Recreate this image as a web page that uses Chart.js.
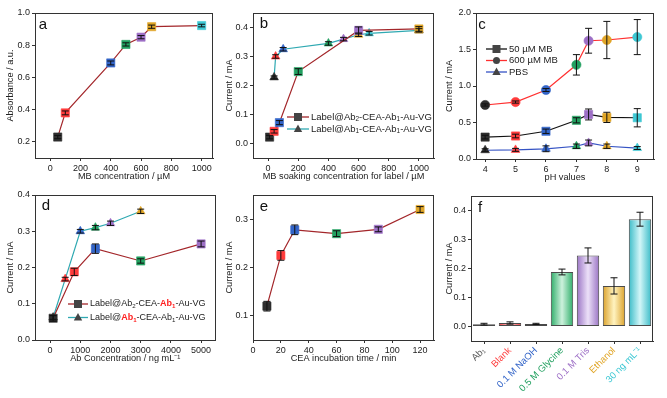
<!DOCTYPE html>
<html>
<head>
<meta charset="utf-8">
<script src="https://cdn.jsdelivr.net/npm/chart.js@4.4.0/dist/chart.umd.min.js"></script>
<style>
  body { margin: 0; background: #fff; width: 667px; height: 398px; position: relative; overflow: hidden; }
  canvas { position: absolute; }
</style>
</head>
<body>
<canvas id="pa" width="222" height="195" style="left:0;top:0"></canvas>
<canvas id="pb" width="222" height="195" style="left:222px;top:0"></canvas>
<canvas id="pc" width="223" height="195" style="left:444px;top:0"></canvas>
<canvas id="pd" width="222" height="218" style="left:0;top:180px"></canvas>
<canvas id="pe" width="222" height="218" style="left:222px;top:180px"></canvas>
<canvas id="pf" width="223" height="218" style="left:444px;top:180px"></canvas>
<script>
const FONT = '"Liberation Sans", Arial, sans-serif';
const INK = '#222';
const TICK_PX = 9;
const TITLE_PX = 9.2;
// point colours, in the order the figure uses them
const PALETTE = ['#2e2e2e', '#ff3b3b', '#3264c8', '#22a060', '#9d6fc6', '#e0a526', '#3ec8d4'];
const RED_LINE = '#a3262a';
const TEAL_LINE = '#2fa9b2';

// a: absorbance vs MB concentration
const aConc = [50, 100, 400, 500, 600, 670, 1000];
const aAbs = [0.23, 0.38, 0.69, 0.805, 0.85, 0.915, 0.922];
const aErr = [0.01, 0.012, 0.012, 0.01, 0.01, 0.01, 0.008];
const aXTicks = [0, 200, 400, 600, 800, 1000];
const aYTicks = [0.2, 0.4, 0.6, 0.8, 1.0];

// b: current vs MB soaking concentration
const bConc1 = [10, 40, 75, 200, 600, 1000];
const bCur1 = [0.022, 0.042, 0.072, 0.248, 0.39, 0.395];
const bErr1 = [0.006, 0.006, 0.007, 0.01, 0.012, 0.008];
const bConc2 = [40, 50, 100, 400, 500, 600, 670, 1000];
const bCur2 = [0.228, 0.30, 0.325, 0.345, 0.36, 0.375, 0.38, 0.39];
const bErr2 = [0.005, 0.006, 0.006, 0.006, 0.006, 0.006, 0.006, 0.006];
const bCol2 = ['#2e2e2e', '#ff3b3b', '#3264c8', '#22a060', '#9d6fc6', '#e0a526', '#3ec8d4', '#2e2e2e'];
const bXTicks = [0, 200, 400, 600, 800, 1000];
const bYTicks = [0.0, 0.1, 0.2, 0.3, 0.4];

// c: current vs pH
const cPH = [4, 5, 6, 7, 7.4, 8, 9];
const c50 = [0.30, 0.315, 0.38, 0.53, 0.61, 0.57, 0.565];
const c50Err = [0.025, 0.025, 0.03, 0.035, 0.075, 0.07, 0.125];
const c600 = [0.74, 0.78, 0.945, 1.29, 1.62, 1.63, 1.67];
const c600Err = [0.015, 0.015, 0.02, 0.14, 0.17, 0.255, 0.24];
const cPBS = [0.12, 0.125, 0.14, 0.175, 0.22, 0.175, 0.15];
const cPBSErr = [0.02, 0.02, 0.04, 0.03, 0.04, 0.03, 0.02];
const cXTicks = [4, 5, 6, 7, 8, 9];
const cYTicks = [0.0, 0.5, 1.0, 1.5, 2.0];

// d: current vs Ab concentration
const dConc1 = [100, 800, 1500, 3000, 5000];
const dCur1 = [0.06, 0.188, 0.252, 0.218, 0.265];
const dErr1 = [0.008, 0.01, 0.013, 0.006, 0.008];
const dConc2 = [100, 500, 1000, 1500, 2000, 3000];
const dCur2 = [0.062, 0.168, 0.30, 0.31, 0.322, 0.355];
const dErr2 = [0.005, 0.005, 0.005, 0.006, 0.006, 0.006];
const dXTicks = [0, 1000, 2000, 3000, 4000, 5000];
const dYTicks = [0.0, 0.1, 0.2, 0.3, 0.4];

// e: current vs CEA incubation time
const eTime = [10, 20, 30, 60, 90, 120];
const eCur = [0.12, 0.225, 0.278, 0.27, 0.279, 0.32];
const eErr = [0.01, 0.01, 0.01, 0.006, 0.005, 0.006];
const eXTicks = [0, 20, 40, 60, 80, 100, 120];
const eYTicks = [0.1, 0.2, 0.3];

// f: blocking / control bars
const fLabels = ['Ab\u2081', 'Blank', '0.1 M NaOH', '0.5 M Glycine', '0.1 M Tris', 'Ethanol', '30 ng mL\u207B\u00B9'];
const fCur = [0.008, 0.012, 0.009, 0.188, 0.245, 0.14, 0.37];
const fErr = [0.003, 0.004, 0.002, 0.01, 0.026, 0.028, 0.024];
const fYTicks = [0.0, 0.1, 0.2, 0.3, 0.4];
const fLabelCol = ['#555555', '#ff3b3b', '#3264c8', '#22a060', '#9d6fc6', '#e0a526', '#3ec8d4'];
const fBarDark = ['#6a6a6a', '#ef3c40', '#3e68c0', '#2fae6a', '#9a74c4', '#dba22c', '#3cbcc8'];
const fBarLight = ['#e6e6e6', '#ffd0d2', '#d2def4', '#cdf1dc', '#ece0f8', '#fff3c0', '#d2f6f8'];

const pts = (xs, ys) => xs.map((x, i) => ({ x: x, y: ys[i] }));

// error bars drawn from dataset.errors through the y scale
Chart.register({
  id: 'errBars',
  afterDatasetsDraw(chart) {
    const ctx = chart.ctx, ys = chart.scales.y;
    chart.data.datasets.forEach((ds, di) => {
      if (!ds.errors) return;
      const meta = chart.getDatasetMeta(di);
      ctx.save();
      ctx.strokeStyle = '#111';
      ctx.lineWidth = 1;
      meta.data.forEach((el, i) => {
        const v = typeof ds.data[i] === 'object' ? ds.data[i].y : ds.data[i];
        const e = ds.errors[i];
        const y1 = ys.getPixelForValue(v + e), y2 = ys.getPixelForValue(v - e);
        const x = el.x, cap = 3.5;
        ctx.beginPath();
        ctx.moveTo(x, y1); ctx.lineTo(x, y2);
        ctx.moveTo(x - cap, y1); ctx.lineTo(x + cap, y1);
        ctx.moveTo(x - cap, y2); ctx.lineTo(x + cap, y2);
        ctx.stroke();
      });
      ctx.restore();
    });
  }
});

// box frame plus panel letter
Chart.register({
  id: 'panelFrame',
  afterDraw(chart, args, opts) {
    const { ctx, chartArea: a } = chart;
    ctx.save();
    ctx.strokeStyle = '#333';
    ctx.lineWidth = 1;
    ctx.strokeRect(Math.round(a.left) + 0.5, Math.round(a.top) + 0.5,
      Math.round(a.right - a.left) - 1, Math.round(a.bottom - a.top));
    if (opts.text) {
      ctx.fillStyle = '#111';
      ctx.font = '15px ' + FONT;
      ctx.textAlign = 'center';
      ctx.textBaseline = 'middle';
      ctx.fillText(opts.text, a.left + opts.dx, a.top + opts.dy);
    }
    ctx.restore();
  }
});

function marker(ctx, style, x, y, r) {
  ctx.beginPath();
  if (style === 'rect') {
    ctx.rect(x - r, y - r, 2 * r, 2 * r);
  } else if (style === 'circle') {
    ctx.arc(x, y, r, 0, Math.PI * 2);
  } else {
    ctx.moveTo(x, y - r * 1.1);
    ctx.lineTo(x + r * 1.05, y + r * 0.75);
    ctx.lineTo(x - r * 1.05, y + r * 0.75);
    ctx.closePath();
  }
  ctx.fill();
}

// legend drawn inside the plot, with subscripts and coloured parts
Chart.register({
  id: 'inLegend',
  afterDraw(chart, args, opts) {
    if (!opts.items) return;
    const { ctx, chartArea: a } = chart;
    const size = opts.size || 9.5;
    ctx.save();
    opts.items.forEach((it, r) => {
      const y = a.top + opts.y + r * opts.gap;
      const x0 = a.left + opts.x;
      ctx.strokeStyle = it.line;
      ctx.lineWidth = 1.3;
      ctx.beginPath(); ctx.moveTo(x0, y); ctx.lineTo(x0 + opts.len, y); ctx.stroke();
      ctx.fillStyle = '#444';
      marker(ctx, it.style, x0 + opts.len / 2, y, it.style === 'circle' ? 3.5 : 4);
      let tx = x0 + opts.len + 2;
      ctx.textBaseline = 'middle';
      ctx.textAlign = 'left';
      it.text.forEach(seg => {
        const [t, col, bold, sub] = seg;
        ctx.font = (bold ? 'bold ' : '') + (sub ? (size * 0.68) : size) + 'px ' + FONT;
        ctx.fillStyle = col || INK;
        ctx.fillText(t, tx, sub ? y + 2.5 : y);
        tx += ctx.measureText(t).width;
      });
    });
    ctx.restore();
  }
});

function xLinear(min, max, ticks, title, H) {
  return {
    type: 'linear', min: min, max: max,
    afterBuildTicks: s => { s.ticks = ticks.map(v => ({ value: v })); },
    afterFit: s => { s.height = H; s.paddingLeft = 0; s.paddingRight = 0; },
    grid: { drawOnChartArea: false, tickLength: 3, color: '#333' },
    border: { color: '#333' },
    ticks: { font: { family: FONT, size: TICK_PX }, color: INK, padding: 2, maxRotation: 0, autoSkip: false,
      callback: v => String(v) },
    title: { display: true, text: title, font: { family: FONT, size: TITLE_PX }, color: INK, padding: { top: 0, bottom: 0 } }
  };
}

function yLinear(min, max, ticks, dec, title, W, tpad) {
  return {
    min: min, max: max,
    afterBuildTicks: s => { s.ticks = ticks.map(v => ({ value: v })); },
    afterFit: s => { s.width = W; s.paddingTop = 0; s.paddingBottom = 0; },
    grid: { drawOnChartArea: false, tickLength: 3, color: '#333' },
    border: { color: '#333' },
    ticks: { font: { family: FONT, size: TICK_PX }, color: INK, padding: 2, autoSkip: false,
      callback: v => Number(v).toFixed(dec) },
    title: { display: true, text: title, font: { family: FONT, size: TITLE_PX }, color: INK, padding: { top: tpad, bottom: 0 } }
  };
}

function series(data, colors, style, line, errors, r) {
  return {
    data: data, errors: errors, showLine: true,
    borderColor: line, borderWidth: 1.2,
    pointStyle: style, pointRadius: r, pointBorderWidth: 0.6,
    pointBackgroundColor: colors, pointBorderColor: colors
  };
}

function baseOpts(pad, letter, legend, scales) {
  return {
    responsive: false, animation: false,
    layout: { padding: pad },
    plugins: {
      legend: { display: false }, tooltip: { enabled: false },
      panelFrame: letter, inLegend: legend || {}
    },
    scales: scales
  };
}

// a
new Chart(document.getElementById('pa'), {
  type: 'scatter',
  data: { datasets: [series(pts(aConc, aAbs), PALETTE, 'rect', RED_LINE, aErr, 5.8)] },
  options: baseOpts({ left: 0, right: 9, top: 13, bottom: 13 }, { text: 'a', dx: 8, dy: 12 }, null, {
    x: xLinear(-100, 1075, aXTicks, 'MB concentration / \u00B5M', 24),
    y: yLinear(0.1, 1.0, aYTicks, 1, 'Absorbance / a.u.', 35, 4.5)
  })
});

const labelAb2 = [['Label@Ab'], ['2', null, false, true], ['-CEA-Ab'], ['1', null, false, true], ['-Au-VG']];
const labelAb1 = [['Label@Ab'], ['1', null, false, true], ['-CEA-Ab'], ['1', null, false, true], ['-Au-VG']];

// b
new Chart(document.getElementById('pb'), {
  type: 'scatter',
  data: { datasets: [
    series(pts(bConc1, bCur1), PALETTE, 'rect', RED_LINE, bErr1, 5.8),
    series(pts(bConc2, bCur2), bCol2, 'triangle', TEAL_LINE, bErr2, 5)
  ] },
  options: baseOpts({ left: 0, right: 10, top: 13, bottom: 13 }, { text: 'b', dx: 11, dy: 11 }, {
    x: 34, y: 104, gap: 12, len: 22, size: 9.5,
    items: [
      { line: RED_LINE, style: 'rect', text: labelAb2 },
      { line: TEAL_LINE, style: 'triangle', text: labelAb1 }
    ]
  }, {
    x: xLinear(-100, 1100, bXTicks, 'MB soaking concentration for label / \u00B5M', 24),
    y: yLinear(-0.05, 0.45, bYTicks, 1, 'Current / mA', 31, 2)
  })
});

// c
new Chart(document.getElementById('pc'), {
  type: 'scatter',
  data: { datasets: [
    series(pts(cPH, c50), PALETTE, 'rect', '#111111', c50Err, 5.8),
    series(pts(cPH, c600), PALETTE, 'circle', '#ff3030', c600Err, 4.6),
    series(pts(cPH, cPBS), PALETTE, 'triangle', '#3553c4', cPBSErr, 5)
  ] },
  options: baseOpts({ left: 0, right: 13, top: 13, bottom: 12 }, { text: 'c', dx: 6, dy: 12 }, {
    x: 10, y: 36, gap: 11.5, len: 21, size: 9.5,
    items: [
      { line: '#111111', style: 'rect', text: [['50 \u00B5M MB']] },
      { line: '#ff3030', style: 'circle', text: [['600 \u00B5M MB']] },
      { line: '#3553c4', style: 'triangle', text: [['PBS']] }
    ]
  }, {
    x: xLinear(3.7, 9.55, cXTicks, 'pH values', 24),
    y: yLinear(0, 2.0, cYTicks, 1, 'Current / mA', 32, 0)
  })
});

// d
const RED_TXT = '#ff2020';
new Chart(document.getElementById('pd'), {
  type: 'scatter',
  data: { datasets: [
    series(pts(dConc1, dCur1), PALETTE, 'rect', RED_LINE, dErr1, 5.8),
    series(pts(dConc2, dCur2), PALETTE, 'triangle', TEAL_LINE, dErr2, 5)
  ] },
  options: baseOpts({ left: 0, right: 6, top: 15, bottom: 34 }, { text: 'd', dx: 11, dy: 11 }, {
    x: 33, y: 109, gap: 13.5, len: 20, size: 9,
    items: [
      { line: RED_LINE, style: 'rect', text: [['Label@Ab'], ['2', null, false, true], ['-CEA-'],
        ['Ab', RED_TXT, true], ['1', RED_TXT, true, true], ['-Au-VG']] },
      { line: TEAL_LINE, style: 'triangle', text: [['Label@'], ['Ab', RED_TXT, true], ['1', RED_TXT, true, true],
        ['-CEA-Ab'], ['1', null, false, true], ['-Au-VG']] }
    ]
  }, {
    x: xLinear(-500, 5480, dXTicks, 'Ab Concentration / ng mL\u207B\u00B9', 24),
    y: yLinear(0, 0.4, dYTicks, 1, 'Current / mA', 35, 4.5)
  })
});

// e
new Chart(document.getElementById('pe'), {
  type: 'scatter',
  data: { datasets: [series(pts(eTime, eCur), PALETTE, 'rect', RED_LINE, eErr, 5.8)] },
  options: baseOpts({ left: 0, right: 10, top: 15, bottom: 34 }, { text: 'e', dx: 11, dy: 12 }, null, {
    x: xLinear(0, 130, eXTicks, 'CEA incubation time / min', 24),
    y: yLinear(0.05, 0.35, eYTicks, 1, 'Current / mA', 31, 2)
  })
});

// f
const BAR_PCT = 0.86;
new Chart(document.getElementById('pf'), {
  type: 'bar',
  data: { labels: fLabels, datasets: [{
    data: fCur, errors: fErr,
    barPercentage: BAR_PCT, categoryPercentage: 1,
    borderColor: '#4a4a4a', borderWidth: 1, borderSkipped: false,
    backgroundColor: c => {
      const ch = c.chart, sx = ch.scales.x, i = c.dataIndex || 0;
      if (!ch.chartArea || !sx || !sx.width) return fBarDark[i];
      const cx = sx.getPixelForValue(i);
      const half = sx.width / fLabels.length * BAR_PCT / 2;
      const g = ch.ctx.createLinearGradient(cx - half, 0, cx + half, 0);
      g.addColorStop(0, fBarDark[i]);
      g.addColorStop(0.5, fBarLight[i]);
      g.addColorStop(1, fBarDark[i]);
      return g;
    }
  }] },
  options: baseOpts({ left: 0, right: 14, top: 16, bottom: 0 }, { text: 'f', dx: 9, dy: 12 }, null, {
    x: {
      type: 'category',
      afterFit: s => { s.height = 57; s.paddingLeft = 0; s.paddingRight = 0; },
      grid: { drawOnChartArea: false, tickLength: 3, color: '#333', offset: false },
      border: { color: '#333' },
      ticks: { font: { family: FONT, size: 9.5 }, color: c => fLabelCol[c.index], padding: 1,
        minRotation: 45, maxRotation: 45, autoSkip: false }
    },
    y: yLinear(-0.05, 0.45, fYTicks, 1, 'Current / mA', 27, 0)
  })
});
</script>
</body>
</html>
